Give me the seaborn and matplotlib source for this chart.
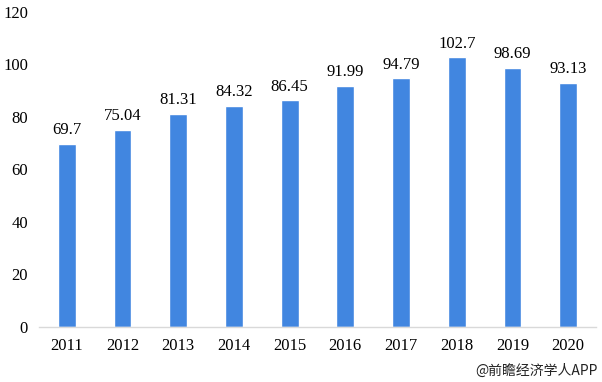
import matplotlib
matplotlib.use("Agg")
import matplotlib.pyplot as plt
import seaborn as sns
import pandas as pd

years = ["2011", "2012", "2013", "2014", "2015", "2016", "2017", "2018", "2019", "2020"]
values = [69.7, 75.04, 81.31, 84.32, 86.45, 91.99, 94.79, 102.7, 98.69, 93.13]
value_labels = ["69.7", "75.04", "81.31", "84.32", "86.45", "91.99", "94.79", "102.7", "98.69", "93.13"]
y_ticks = [0, 20, 40, 60, 80, 100, 120]

sns.set_theme(style="white")
plt.rcParams['font.family'] = ['Liberation Serif', 'DejaVu Serif']

df = pd.DataFrame({"year": years, "value": values})

fig = plt.figure(figsize=(6.02, 3.82), dpi=100)
ax = fig.add_axes([0.0648, 0.144, 0.9252, 0.8246])
sns.barplot(data=df, x="year", y="value", color="#4186E0", width=0.32,
            saturation=1, ax=ax)

ax.set_ylim(0, 120)
ax.set_yticks(y_ticks)
ax.set_xlim(-0.5, len(years) - 0.5)
ax.set_xlabel("")
ax.set_ylabel("")
for s in ["top", "right", "left"]:
    ax.spines[s].set_visible(False)
ax.spines["bottom"].set_color("#D9D9D9")
ax.spines["bottom"].set_linewidth(1)

ax.tick_params(axis="y", length=0, labelsize=12, colors="#000000", pad=8)
ax.tick_params(axis="x", length=0, labelsize=12, colors="#000000", pad=8)
# category boundary tick marks
ax.set_xticks([i - 0.5 for i in range(len(years) + 1)], minor=True)
ax.tick_params(axis="x", which="minor", length=5, color="#D9D9D9", width=1, direction="out")

ax.bar_label(ax.containers[0], labels=value_labels, padding=4, fontsize=12, color="#000000")

fig.text(0.993, 0.03, "@前瞻经济学人APP", ha="right", va="center", fontsize=10,
         color="#222222", family=["Noto Sans CJK SC", "DejaVu Sans"])

fig.savefig("out.png", dpi=100)
